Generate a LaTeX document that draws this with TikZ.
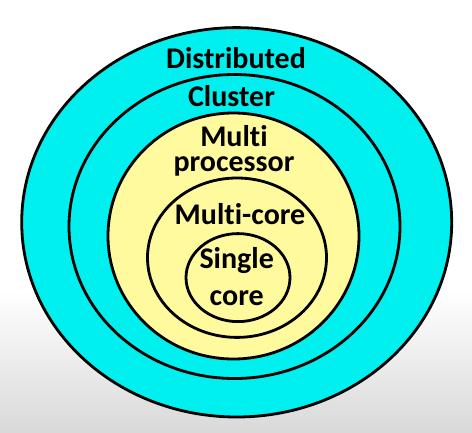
\documentclass[tikz,border=0pt]{standalone}
\usepackage{fontspec}
\setmainfont[Ligatures=NoCommon]{Carlito}
\definecolor{ringcyan}{RGB}{0,240,240}
\definecolor{ringyellow}{RGB}{255,250,158}
\definecolor{bggray}{RGB}{217,217,217}
\tikzset{
  ring/.style={draw=black, line width=2.8pt},
  lbl/.style={anchor=base, inner sep=0pt, align=center, text=black}
}
\begin{document}
\begin{tikzpicture}[x=1pt,y=-1pt]
\useasboundingbox (0,0) rectangle (472,432);
\fill[white] (0,0) rectangle (472,290);
\shade[top color=white, bottom color=bggray] (0,290) rectangle (472,432);
% rings
\path[ring, fill=ringcyan] (236.7,222.3) ellipse [x radius=215pt, y radius=194.7pt];
\path[ring, fill=ringcyan] (234.5,226.5) ellipse [x radius=165.5pt, y radius=152pt];
\path[ring, fill=ringyellow] (233.5,236) ellipse [x radius=125.5pt, y radius=123pt];
\path[ring, fill=ringyellow] (237,257.7) ellipse [x radius=89.5pt, y radius=79.7pt];
\path[ring, fill=ringyellow] (238,277.6) ellipse [x radius=52pt, y radius=44pt];
% labels (base anchor = baseline of the last line)
\node[lbl, font=\bfseries\fontsize{30}{36}\selectfont] (dist) at (236,68.5) {Distributed};
\node[lbl, font=\bfseries\fontsize{30}{36}\selectfont] (clus) at (231.5,106.7) {Cluster};
\node[lbl, font=\bfseries\fontsize{30}{25}\selectfont] (mp) at (234,171.5) {Multi\\processor};
\node[lbl, font=\bfseries\fontsize{30}{36}\selectfont] (mc) at (240,224.3) {Multi-core};
\node[lbl, font=\bfseries\fontsize{30}{36.5}\selectfont] (sc) at (236.7,305) {Single\\core};
\end{tikzpicture}
\end{document}
